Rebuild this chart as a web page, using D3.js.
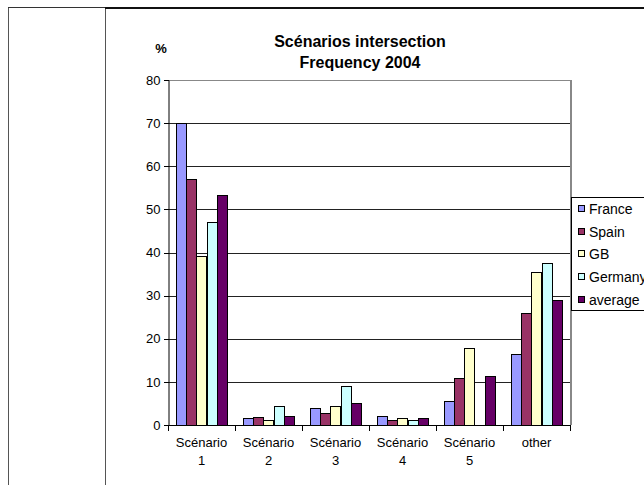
<!DOCTYPE html>
<html>
<head>
<meta charset="utf-8">
<script src="https://cdn.jsdelivr.net/npm/d3@7"></script>
<style>
  body { margin: 0; background: #fff; }
  svg { display: block; font-family: "Liberation Sans", Arial, sans-serif; }
  .grid line, .frame, .bar, .tick line { shape-rendering: crispEdges; }
</style>
</head>
<body>
<div id="chart"></div>
<script>
// Scénarios intersection - frequency 2004, values in %
const categories = ["Scénario 1", "Scénario 2", "Scénario 3", "Scénario 4", "Scénario 5", "other"];
const seriesNames = ["France", "Spain", "GB", "Germany", "average"];
const france  = [70.0, 1.6, 4.0, 2.2, 5.5, 16.4];
const spain   = [57.0, 1.9, 2.8, 1.2, 10.8, 25.9];
const gb      = [39.1, 1.2, 4.5, 1.7, 17.8, 35.4];
const germany = [47.1, 4.3, 9.0, 1.1, null, 37.6];
const average = [53.3, 2.2, 5.0, 1.7, 11.3, 29.0];
const yTicks = [0, 10, 20, 30, 40, 50, 60, 70, 80];

const colors = ["#9999ff", "#993366", "#ffffcc", "#ccffff", "#660066"];
const seriesValues = [france, spain, gb, germany, average];

const width = 644, height = 485;

const svg = d3.select("#chart")
    .append("svg")
    .attr("width", width)
    .attr("height", height);

// page frame lines (the table the chart sits in)
svg.append("line").attr("class", "frame")
    .attr("x1", 8.5).attr("x2", 8.5).attr("y1", 7).attr("y2", height)
    .attr("stroke", "#555");
svg.append("line").attr("class", "frame")
    .attr("x1", 105.5).attr("x2", 105.5).attr("y1", 7).attr("y2", height)
    .attr("stroke", "#555");
svg.append("line").attr("class", "frame")
    .attr("x1", 8).attr("x2", 105).attr("y1", 7.5).attr("y2", 7.5)
    .attr("stroke", "#333");
svg.append("line").attr("class", "frame")
    .attr("x1", 105).attr("x2", width).attr("y1", 7.5).attr("y2", 7.5)
    .attr("stroke", "#111").attr("stroke-width", 2);

const x = d3.scaleBand().domain(categories).range([168, 570]);
const xs = d3.scaleBand().domain(seriesNames)
    .range([7.5, x.bandwidth() - 7.5]);
const y = d3.scaleLinear().domain([0, 80]).range([425, 80]);

// gridlines
svg.append("g").attr("class", "grid")
    .selectAll("line")
    .data(yTicks.filter(t => t > 0 && t < 80))
    .enter()
    .append("line")
    .attr("x1", x.range()[0]).attr("x2", x.range()[1])
    .attr("y1", d => Math.round(y(d)) + 0.5)
    .attr("y2", d => Math.round(y(d)) + 0.5)
    .attr("stroke", "#222");

// plot area top / right border
svg.append("line").attr("class", "frame")
    .attr("x1", x.range()[0]).attr("x2", x.range()[1])
    .attr("y1", y(80) + 0.5).attr("y2", y(80) + 0.5)
    .attr("stroke", "#888");
svg.append("line").attr("class", "frame")
    .attr("x1", x.range()[1] + 0.5).attr("x2", x.range()[1] + 0.5)
    .attr("y1", y(80)).attr("y2", y(0))
    .attr("stroke", "#888").attr("stroke-width", 2);

// bars
const groups = svg.append("g")
    .selectAll("g")
    .data(seriesNames.map((name, i) => ({ name, color: colors[i], values: seriesValues[i] })))
    .enter()
    .append("g")
    .attr("fill", d => d.color);

groups.selectAll("rect")
    .data(d => d.values.map((v, j) => ({ name: d.name, cat: categories[j], v })).filter(d => d.v != null))
    .enter()
    .append("rect")
    .attr("class", "bar")
    .attr("x", d => Math.round(x(d.cat) + xs(d.name)) + 0.5)
    .attr("width", xs.bandwidth())
    .attr("y", d => Math.round(y(d.v)) + 0.5)
    .attr("height", d => Math.round(y(0)) - Math.round(y(d.v)))
    .attr("stroke", "#000")
    .attr("stroke-width", 1);

// y axis
const yAxis = svg.append("g")
    .attr("transform", "translate(168.5,0)")
    .call(d3.axisLeft(y).tickValues(yTicks).tickSize(5).tickPadding(3).tickSizeOuter(0));
yAxis.select(".domain").attr("stroke", "#000");
yAxis.selectAll(".tick line").attr("stroke", "#000");
yAxis.selectAll("text").attr("font-size", 13).attr("fill", "#000")
    .attr("font-family", "Liberation Sans, Arial, sans-serif");

// x axis line and boundary ticks
const xAxis = svg.append("g").attr("class", "x-axis");
xAxis.append("line").attr("class", "frame")
    .attr("x1", x.range()[0]).attr("x2", x.range()[1] + 1)
    .attr("y1", y(0) + 0.5).attr("y2", y(0) + 0.5)
    .attr("stroke", "#000");
const bounds = categories.map(c => x(c)).concat([x.range()[1]]);
xAxis.selectAll(".bt")
    .data(bounds)
    .enter()
    .append("line")
    .attr("class", "frame")
    .attr("x1", d => Math.round(d) + 0.5).attr("x2", d => Math.round(d) + 0.5)
    .attr("y1", y(0)).attr("y2", y(0) + 6)
    .attr("stroke", "#000");

// category labels, split on the space before the number
const catLabels = xAxis.selectAll(".cl")
    .data(categories)
    .enter()
    .append("text")
    .attr("text-anchor", "middle")
    .attr("font-size", 13)
    .attr("fill", "#000")
    .attr("transform", d => `translate(${x(d) + x.bandwidth() / 2},0)`);
catLabels.each(function (d) {
    const parts = d.match(/^(.*) (\d+)$/);
    const lines = parts ? [parts[1], parts[2]] : [d];
    d3.select(this).selectAll("tspan")
        .data(lines)
        .enter()
        .append("tspan")
        .attr("x", 0)
        .attr("y", (l, i) => 447 + i * 18)
        .text(l => l);
});

// titles
svg.append("text")
    .attr("x", 360).attr("y", 47)
    .attr("text-anchor", "middle")
    .attr("font-size", 16).attr("font-weight", "bold")
    .text("Scénarios intersection");
svg.append("text")
    .attr("x", 360).attr("y", 68)
    .attr("text-anchor", "middle")
    .attr("font-size", 16).attr("font-weight", "bold")
    .text("Frequency 2004");
svg.append("text")
    .attr("x", 161).attr("y", 53)
    .attr("text-anchor", "middle")
    .attr("font-size", 13).attr("font-weight", "bold")
    .text("%");

// legend
const legend = svg.append("g").attr("transform", "translate(571,197)");
legend.append("rect").attr("class", "frame")
    .attr("x", 0.5).attr("y", 0.5)
    .attr("width", 120).attr("height", 113)
    .attr("fill", "#fff").attr("stroke", "#000");
const items = legend.selectAll(".li")
    .data(seriesNames)
    .enter()
    .append("g")
    .attr("transform", (d, i) => `translate(0,${12 + i * 22.7})`);
items.append("rect").attr("class", "frame")
    .attr("x", 7.5).attr("y", -3.5)
    .attr("width", 6).attr("height", 6)
    .attr("fill", (d, i) => colors[i])
    .attr("stroke", "#000");
items.append("text")
    .attr("x", 18).attr("y", 5)
    .attr("font-size", 14)
    .text(d => d);
</script>
</body>
</html>
